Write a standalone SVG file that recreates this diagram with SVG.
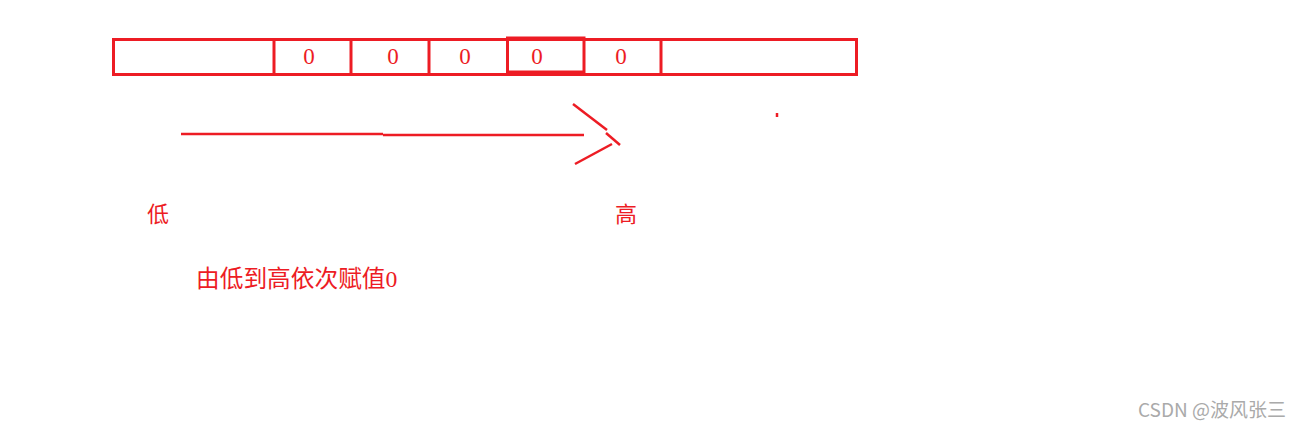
<svg xmlns="http://www.w3.org/2000/svg" width="1304" height="428" viewBox="0 0 1304 428">
<style>
.box{fill:none;stroke:#ed1c24;stroke-width:3}
.ln{stroke:#ed1c24;stroke-width:2.5;fill:none}
.z{font-family:"Liberation Serif",serif;font-size:23px;fill:#ed1c24;text-anchor:middle}
.cjk{font-family:"Liberation Serif","Noto Sans CJK SC",serif;font-size:22px;fill:#ed1c24}
.big{font-size:23.7px}
.wm{font-family:"Noto Sans CJK SC",sans-serif;font-size:19px;fill:#aaaaaa}
</style>
<rect width="1304" height="428" fill="#ffffff"/>
<g id="array">
<rect class="box" x="113.5" y="39.5" width="743" height="35"/>
<line class="box" x1="274" y1="39.5" x2="274" y2="74.5"/>
<line class="box" x1="351" y1="39.5" x2="351" y2="74.5"/>
<line class="box" x1="429" y1="39.5" x2="429" y2="74.5"/>
<rect class="box" x="507.5" y="38" width="76.5" height="34"/>
<line class="box" x1="661" y1="39.5" x2="661" y2="74.5"/>
<text class="z" x="309" y="64">0</text>
<text class="z" x="393" y="64">0</text>
<text class="z" x="465" y="64">0</text>
<text class="z" x="537" y="64">0</text>
<text class="z" x="621" y="64">0</text>
</g>
<g id="connectors">
<line class="ln" x1="181" y1="134" x2="383" y2="134"/>
<line class="ln" x1="383" y1="135" x2="584" y2="135"/>
<line class="ln" x1="573" y1="104" x2="607" y2="130"/>
<line class="ln" x1="606" y1="133" x2="620" y2="145"/>
<line class="ln" x1="575" y1="164" x2="612" y2="144"/>
<line class="ln" x1="777" y1="113" x2="777" y2="117"/>
</g>
<g id="labels">
<text class="cjk" x="147" y="222">低</text>
<text class="cjk" x="615" y="222">高</text>
<text class="cjk big" x="196" y="287">由低到高依次赋值0</text>
</g>
<text class="wm" x="1138" y="417">CSDN @波风张三</text>
</svg>
